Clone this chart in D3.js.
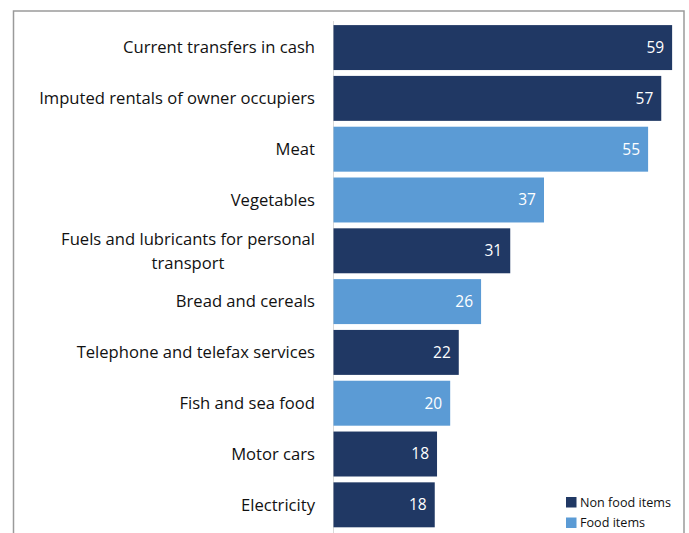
<!DOCTYPE html>
<html><head><meta charset="utf-8">
<script src="https://cdn.jsdelivr.net/npm/d3@7"></script>
<style>html,body{margin:0;padding:0;background:#fff;}svg{display:block;}</style>
</head><body>
<svg id="c" width="689" height="533"></svg>
<script>
const categories = [
  "Current transfers in cash",
  "Imputed rentals of owner occupiers",
  "Meat",
  "Vegetables",
  "Fuels and lubricants for personal|transport",
  "Bread and cereals",
  "Telephone and telefax services",
  "Fish and sea food",
  "Motor cars",
  "Electricity"
];
const values = [59.2, 57.3, 55.0, 36.8, 30.9, 25.8, 21.9, 20.4, 18.1, 17.7];
const groups = ["Non food items","Non food items","Food items","Food items","Non food items","Food items","Non food items","Food items","Non food items","Non food items"];
const legendItems = ["Non food items", "Food items"];
const colors = {"Non food items": "#203864", "Food items": "#5B9BD5"};

const svg = d3.select("#c");
const font = "'Open Sans', Lato, sans-serif";

// fit a font size so that a reference string measures a target width
function fitSize(str, target, base) {
  const t = svg.append("text").attr("font-family", font).attr("font-size", base).text(str);
  const w = t.node().getComputedTextLength();
  t.remove();
  return base * target / w;
}
const labelSize = fitSize("Current transfers in cash", 192, 16);
const legendSize = fitSize("Non food items", 91, 13);

// frame
svg.append("path").attr("d", "M13.5,540 V11 H684 V540")
  .attr("fill", "none").attr("stroke", "#9a9a9a").attr("stroke-width", 1.5);

const x = d3.scaleLinear().domain([0, 60]).range([333.5, 333.5 + 60 * 5.72]);
const y = d3.scaleBand().domain(categories).range([22.2, 22.2 + 50.8 * 10]).paddingInner(0.115).paddingOuter(0.057);

// axis line
svg.append("line").attr("x1", 333.5).attr("x2", 333.5).attr("y1", 21).attr("y2", 540)
  .attr("stroke", "#d9d9d9").attr("stroke-width", 1);

const rows = categories.map((c, i) => ({c, v: values[i], g: groups[i]}));

svg.selectAll("rect.bar").data(rows).join("rect").attr("class", "bar")
  .attr("x", x(0)).attr("y", d => y(d.c))
  .attr("width", d => x(d.v) - x(0)).attr("height", y.bandwidth())
  .attr("fill", d => colors[d.g]);

svg.selectAll("text.val").data(rows).join("text").attr("class", "val")
  .attr("x", d => x(d.v) - 8).attr("y", d => y(d.c) + y.bandwidth() / 2)
  .attr("dy", "0.35em").attr("text-anchor", "end")
  .attr("fill", "#fff").attr("font-family", font).attr("font-size", 15.5)
  .text(d => d3.format(".0f")(d.v));

// category labels
const labelRight = 315;
rows.forEach(d => {
  const lines = d.c.split("|");
  const g = svg.append("g");
  const lh = 24;
  const cy = y(d.c) + y.bandwidth() / 2;
  const ts = lines.map((l, k) => g.append("text")
    .attr("y", cy + (k - (lines.length - 1) / 2) * lh).attr("dy", "0.35em")
    .attr("font-family", font).attr("font-size", labelSize).attr("fill", "#111")
    .attr("text-anchor", "middle").text(l));
  const maxW = d3.max(ts, t => t.node().getComputedTextLength());
  ts.forEach(t => t.attr("x", labelRight - maxW / 2));
});

// legend
const leg = svg.append("g");
legendItems.forEach((k, i) => {
  leg.append("rect").attr("x", 566).attr("y", 497 + i * 20.5).attr("width", 10.5).attr("height", 10.5).attr("fill", colors[k]);
  leg.append("text").attr("x", 580).attr("y", 502.5 + i * 20.5).attr("dy", "0.35em")
    .attr("font-family", font).attr("font-size", legendSize).attr("fill", "#111").text(k);
});
</script>
</body></html>
